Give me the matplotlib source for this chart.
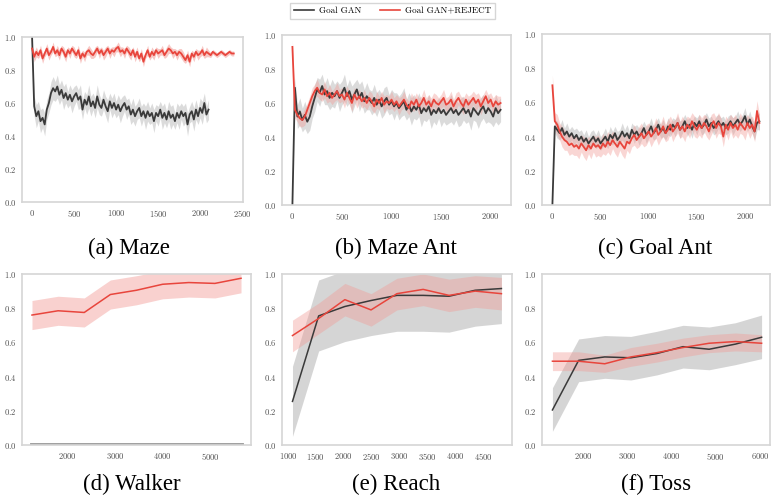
import numpy as np
import matplotlib
matplotlib.use("Agg")
import matplotlib.pyplot as plt
from matplotlib.ticker import FuncFormatter

plt.rcParams['font.family'] = 'cmr10'
plt.rcParams['mathtext.fontset'] = 'cm'
plt.rcParams['axes.formatter.use_mathtext'] = True

GAN_COLOR = '#3a3a3a'
REJ_COLOR = '#e8453c'
GAN_FILL = '#c4c4c4'
REJ_FILL = '#f29a95'

# ---------------- top row: training curves (step 25 iterations) ----------------
step = 25

# (a) Maze
maze_gan = [1.00, 0.58, 0.52, 0.55, 0.49, 0.51, 0.47, 0.56, 0.60, 0.66,
            0.69, 0.67, 0.70, 0.65, 0.68, 0.63, 0.66, 0.62, 0.65, 0.61,
            0.64, 0.66, 0.62, 0.64, 0.56, 0.62, 0.59, 0.64, 0.58, 0.61,
            0.57, 0.64, 0.59, 0.57, 0.62, 0.58, 0.55, 0.61, 0.57, 0.60,
            0.56, 0.59, 0.55, 0.58, 0.60, 0.56, 0.58, 0.53, 0.56, 0.52,
            0.55, 0.57, 0.52, 0.55, 0.51, 0.55, 0.52, 0.54, 0.49, 0.54,
            0.52, 0.56, 0.51, 0.54, 0.50, 0.55, 0.51, 0.53, 0.49, 0.54,
            0.51, 0.55, 0.52, 0.54, 0.47, 0.53, 0.55, 0.50, 0.56, 0.52,
            0.57, 0.54, 0.60, 0.53, 0.56]
maze_gan_sd = [0.00, 0.06, 0.07, 0.06, 0.07, 0.06, 0.07, 0.06, 0.06, 0.07,
               0.07, 0.06, 0.07, 0.06, 0.06, 0.07, 0.06, 0.05, 0.06, 0.07,
               0.06, 0.05, 0.06, 0.07, 0.06, 0.05, 0.06, 0.07, 0.06, 0.05,
               0.06, 0.07, 0.06, 0.05, 0.06, 0.06, 0.07, 0.05, 0.06, 0.06,
               0.05, 0.06, 0.07, 0.06, 0.05, 0.06, 0.05, 0.06, 0.07, 0.06,
               0.05, 0.06, 0.06, 0.05, 0.07, 0.06, 0.05, 0.06, 0.07, 0.05,
               0.06, 0.05, 0.07, 0.06, 0.05, 0.06, 0.07, 0.06, 0.05, 0.06,
               0.07, 0.05, 0.06, 0.06, 0.07, 0.05, 0.06, 0.07, 0.06, 0.05,
               0.06, 0.07, 0.06, 0.05, 0.06]
maze_rej = [0.93, 0.88, 0.91, 0.89, 0.92, 0.87, 0.90, 0.93, 0.89, 0.91,
            0.94, 0.90, 0.92, 0.89, 0.93, 0.91, 0.88, 0.92, 0.90, 0.93,
            0.91, 0.89, 0.92, 0.87, 0.90, 0.88, 0.91, 0.92, 0.90, 0.89,
            0.91, 0.93, 0.90, 0.92, 0.89, 0.91, 0.93, 0.90, 0.92, 0.91,
            0.93, 0.94, 0.91, 0.92, 0.90, 0.93, 0.91, 0.89, 0.92, 0.88,
            0.91, 0.87, 0.90, 0.85, 0.89, 0.92, 0.88, 0.91, 0.89, 0.92,
            0.90, 0.91, 0.92, 0.89, 0.91, 0.93, 0.92, 0.90, 0.91, 0.89,
            0.91, 0.90, 0.88, 0.86, 0.89, 0.85, 0.90, 0.88, 0.91, 0.89,
            0.90, 0.92, 0.89, 0.91, 0.90, 0.89, 0.91, 0.90, 0.89, 0.90,
            0.91, 0.90, 0.89, 0.90, 0.91, 0.90, 0.90]
maze_rej_sd = [0.02, 0.03, 0.03, 0.02, 0.03, 0.03, 0.02, 0.03, 0.03, 0.02,
               0.03, 0.02, 0.03, 0.03, 0.02, 0.03, 0.03, 0.02, 0.03, 0.02,
               0.03, 0.02, 0.03, 0.03, 0.02, 0.03, 0.02, 0.03, 0.03, 0.02,
               0.03, 0.02, 0.03, 0.02, 0.03, 0.03, 0.02, 0.03, 0.02, 0.03,
               0.02, 0.03, 0.03, 0.02, 0.03, 0.02, 0.03, 0.03, 0.02, 0.03,
               0.03, 0.02, 0.03, 0.03, 0.02, 0.03, 0.02, 0.03, 0.03, 0.02,
               0.03, 0.02, 0.03, 0.02, 0.03, 0.03, 0.02, 0.03, 0.02, 0.03,
               0.02, 0.03, 0.03, 0.02, 0.03, 0.03, 0.02, 0.03, 0.02, 0.03,
               0.02, 0.03, 0.02, 0.03, 0.02, 0.015, 0.015, 0.015, 0.015, 0.015,
               0.015, 0.015, 0.015, 0.015, 0.015, 0.015, 0.015]

# (b) Maze Ant
ant_gan = [0.00, 0.69, 0.52, 0.55, 0.50, 0.53, 0.49, 0.52, 0.58, 0.63,
           0.68, 0.66, 0.70, 0.65, 0.67, 0.63, 0.66, 0.64, 0.67, 0.63,
           0.66, 0.69, 0.64, 0.67, 0.62, 0.65, 0.68, 0.63, 0.66, 0.61,
           0.64, 0.62, 0.60, 0.63, 0.59, 0.62, 0.58, 0.61, 0.63, 0.59,
           0.61, 0.58, 0.60, 0.57, 0.59, 0.61, 0.56, 0.59, 0.55, 0.58,
           0.56, 0.59, 0.54, 0.57, 0.55, 0.58, 0.53, 0.56, 0.54, 0.57,
           0.54, 0.56, 0.53, 0.55, 0.57, 0.54, 0.56, 0.53, 0.55, 0.57,
           0.54, 0.56, 0.52, 0.57, 0.55, 0.53, 0.56, 0.58, 0.54, 0.57,
           0.55, 0.52, 0.57, 0.54, 0.56]
ant_gan_sd = [0.00, 0.06, 0.07, 0.08, 0.07, 0.08, 0.07, 0.08, 0.07, 0.08,
              0.07, 0.08, 0.07, 0.06, 0.08, 0.07, 0.08, 0.07, 0.06, 0.08,
              0.07, 0.08, 0.06, 0.07, 0.08, 0.07, 0.06, 0.08, 0.07, 0.07,
              0.08, 0.06, 0.07, 0.08, 0.07, 0.06, 0.07, 0.08, 0.07, 0.06,
              0.07, 0.08, 0.06, 0.07, 0.07, 0.08, 0.06, 0.07, 0.08, 0.07,
              0.06, 0.07, 0.08, 0.07, 0.06, 0.07, 0.08, 0.07, 0.07, 0.06,
              0.08, 0.07, 0.06, 0.07, 0.08, 0.07, 0.06, 0.07, 0.08, 0.07,
              0.06, 0.07, 0.08, 0.07, 0.06, 0.08, 0.07, 0.07, 0.06, 0.08,
              0.07, 0.06, 0.08, 0.07, 0.07]
ant_rej = [0.93, 0.56, 0.53, 0.51, 0.50, 0.52, 0.56, 0.60, 0.64, 0.67,
           0.69, 0.66, 0.65, 0.68, 0.64, 0.66, 0.63, 0.65, 0.67, 0.64,
           0.65, 0.62, 0.66, 0.63, 0.60, 0.65, 0.62, 0.64, 0.61, 0.63,
           0.60, 0.63, 0.61, 0.58, 0.62, 0.60, 0.63, 0.59, 0.61, 0.60,
           0.62, 0.59, 0.61, 0.58, 0.60, 0.62, 0.59, 0.57, 0.61, 0.59,
           0.62, 0.58, 0.60, 0.63, 0.59, 0.61, 0.58, 0.62, 0.60, 0.59,
           0.61, 0.63, 0.59, 0.60, 0.62, 0.58, 0.61, 0.63, 0.60, 0.58,
           0.62, 0.59, 0.61, 0.63, 0.60, 0.62, 0.58, 0.61, 0.64, 0.60,
           0.62, 0.58, 0.61, 0.59, 0.60]
ant_rej_sd = [0.04, 0.05, 0.04, 0.05, 0.04, 0.05, 0.04, 0.04, 0.05, 0.04,
              0.05, 0.04, 0.04, 0.05, 0.04, 0.05, 0.04, 0.04, 0.05, 0.04,
              0.04, 0.05, 0.04, 0.04, 0.05, 0.04, 0.05, 0.04, 0.04, 0.05,
              0.04, 0.04, 0.05, 0.04, 0.05, 0.04, 0.04, 0.05, 0.04, 0.04,
              0.05, 0.04, 0.04, 0.05, 0.04, 0.05, 0.04, 0.04, 0.05, 0.04,
              0.04, 0.05, 0.04, 0.05, 0.04, 0.04, 0.05, 0.04, 0.05, 0.04,
              0.04, 0.05, 0.04, 0.04, 0.05, 0.04, 0.05, 0.04, 0.04, 0.05,
              0.04, 0.05, 0.04, 0.04, 0.05, 0.04, 0.05, 0.04, 0.04, 0.05,
              0.04, 0.05, 0.04, 0.05, 0.04]

# (c) Goal Ant
goal_gan = [0.00, 0.46, 0.44, 0.42, 0.45, 0.41, 0.43, 0.40, 0.42, 0.39,
            0.41, 0.38, 0.40, 0.37, 0.39, 0.36, 0.38, 0.40, 0.37, 0.39,
            0.36, 0.38, 0.40, 0.37, 0.41, 0.39, 0.42, 0.38, 0.40, 0.43,
            0.40, 0.42, 0.39, 0.44, 0.41, 0.43, 0.40, 0.42, 0.45, 0.41,
            0.43, 0.46, 0.42, 0.44, 0.47, 0.43, 0.45, 0.42, 0.46, 0.44,
            0.47, 0.45, 0.48, 0.44, 0.46, 0.49, 0.45, 0.47, 0.44, 0.48,
            0.46, 0.49, 0.45, 0.47, 0.50, 0.46, 0.48, 0.45, 0.47, 0.49,
            0.46, 0.48, 0.45, 0.47, 0.49, 0.46, 0.48, 0.50, 0.47, 0.49,
            0.52, 0.47, 0.50, 0.46, 0.43, 0.48, 0.49]
goal_gan_sd = [0.00, 0.04, 0.05, 0.04, 0.05, 0.04, 0.05, 0.04, 0.04, 0.05,
               0.04, 0.05, 0.04, 0.04, 0.05, 0.04, 0.05, 0.04, 0.04, 0.05,
               0.04, 0.04, 0.05, 0.04, 0.05, 0.04, 0.04, 0.05, 0.04, 0.05,
               0.04, 0.05, 0.04, 0.04, 0.05, 0.04, 0.05, 0.04, 0.04, 0.05,
               0.04, 0.05, 0.04, 0.05, 0.04, 0.04, 0.05, 0.04, 0.05, 0.04,
               0.04, 0.05, 0.04, 0.05, 0.04, 0.04, 0.05, 0.04, 0.05, 0.04,
               0.05, 0.04, 0.04, 0.05, 0.04, 0.05, 0.04, 0.04, 0.05, 0.04,
               0.05, 0.04, 0.04, 0.05, 0.04, 0.05, 0.04, 0.05, 0.04, 0.04,
               0.05, 0.04, 0.05, 0.04, 0.05, 0.04, 0.05]
goal_rej = [0.70, 0.49, 0.47, 0.43, 0.40, 0.38, 0.37, 0.35, 0.36, 0.34,
            0.35, 0.33, 0.36, 0.34, 0.32, 0.35, 0.33, 0.36, 0.34, 0.35,
            0.33, 0.36, 0.34, 0.37, 0.35, 0.38, 0.36, 0.34, 0.37, 0.35,
            0.33, 0.37, 0.36, 0.39, 0.41, 0.38, 0.40, 0.42, 0.39, 0.41,
            0.43, 0.40, 0.42, 0.45, 0.41, 0.43, 0.46, 0.42, 0.44, 0.47,
            0.43, 0.45, 0.48, 0.44, 0.46, 0.43, 0.47, 0.45, 0.49, 0.46,
            0.44, 0.47, 0.45, 0.48, 0.46, 0.43, 0.47, 0.49, 0.45, 0.48,
            0.46, 0.40, 0.47, 0.44, 0.48, 0.45, 0.47, 0.44, 0.48, 0.46,
            0.44, 0.48, 0.45, 0.47, 0.43, 0.55, 0.48]
goal_rej_sd = [0.06, 0.05, 0.06, 0.05, 0.06, 0.06, 0.05, 0.06, 0.06, 0.05,
               0.06, 0.06, 0.05, 0.06, 0.06, 0.05, 0.06, 0.05, 0.06, 0.06,
               0.05, 0.06, 0.05, 0.06, 0.06, 0.05, 0.06, 0.06, 0.05, 0.06,
               0.06, 0.05, 0.06, 0.05, 0.06, 0.05, 0.06, 0.06, 0.05, 0.06,
               0.05, 0.06, 0.05, 0.06, 0.06, 0.05, 0.06, 0.05, 0.06, 0.05,
               0.06, 0.05, 0.06, 0.05, 0.06, 0.06, 0.05, 0.06, 0.05, 0.06,
               0.05, 0.06, 0.06, 0.05, 0.06, 0.05, 0.06, 0.05, 0.06, 0.06,
               0.05, 0.06, 0.05, 0.06, 0.05, 0.06, 0.06, 0.05, 0.06, 0.05,
               0.06, 0.05, 0.06, 0.05, 0.06, 0.06, 0.05]

# ---------------- bottom row: evaluation curves ----------------
walker_x = [1250, 1800, 2350, 2900, 3450, 4000, 4550, 5100, 5650]
walker_gan = [0, 0, 0, 0, 0, 0, 0, 0, 0]
walker_rej = [0.76, 0.785, 0.775, 0.88, 0.905, 0.94, 0.95, 0.945, 0.975]
walker_rej_lo = [0.675, 0.70, 0.69, 0.795, 0.82, 0.855, 0.865, 0.86, 0.89]
walker_rej_hi = [0.845, 0.87, 0.86, 0.965, 0.99, 1.02, 1.03, 1.03, 1.06]

reach_x = [1080, 1550, 2020, 2490, 2955, 3425, 3890, 4360, 4830]
reach_gan = [0.255, 0.755, 0.81, 0.845, 0.875, 0.875, 0.87, 0.905, 0.915]
reach_gan_lo = [0.05, 0.55, 0.605, 0.64, 0.665, 0.665, 0.66, 0.695, 0.71]
reach_gan_hi = [0.46, 0.965, 1.02, 1.04, 1.04, 1.04, 1.03, 1.04, 1.05]
reach_rej = [0.64, 0.74, 0.85, 0.79, 0.885, 0.91, 0.875, 0.90, 0.885]
reach_rej_lo = [0.545, 0.65, 0.755, 0.695, 0.79, 0.815, 0.78, 0.805, 0.79]
reach_rej_hi = [0.73, 0.83, 0.945, 0.885, 0.975, 1.00, 0.97, 0.99, 0.98]

toss_x = [1308, 1900, 2490, 3080, 3670, 4260, 4850, 5445, 6036]
toss_gan = [0.205, 0.495, 0.515, 0.51, 0.535, 0.575, 0.56, 0.59, 0.63]
toss_gan_lo = [0.08, 0.37, 0.39, 0.38, 0.41, 0.45, 0.44, 0.47, 0.505]
toss_gan_hi = [0.335, 0.62, 0.64, 0.635, 0.665, 0.70, 0.69, 0.715, 0.76]
toss_rej = [0.49, 0.49, 0.475, 0.515, 0.54, 0.57, 0.595, 0.605, 0.595]
toss_rej_lo = [0.435, 0.435, 0.425, 0.46, 0.485, 0.515, 0.54, 0.55, 0.545]
toss_rej_hi = [0.545, 0.545, 0.525, 0.57, 0.595, 0.625, 0.645, 0.655, 0.645]

captions = ['(a) Maze', '(b) Maze Ant', '(c) Goal Ant',
            '(d) Walker', '(e) Reach', '(f) Toss']


def style(ax):
    ax.set_ylim(0, 1)
    ax.set_yticks([0, 0.2, 0.4, 0.6, 0.8, 1.0])
    ax.yaxis.set_major_formatter(FuncFormatter(lambda v, p: r'$%.1f$' % v))
    ax.xaxis.set_major_formatter(FuncFormatter(lambda v, p: r'$%d$' % v))
    for s in ax.spines.values():
        s.set_color('#d5d5d5')
        s.set_linewidth(1.2)
    ax.tick_params(length=0, labelsize=6.2, labelcolor='#505050', pad=4)


def band(ax, x, mean, sd, color, fill, alpha, lw=1.3):
    x = np.asarray(x)
    m = np.asarray(mean)
    s = np.asarray(sd)
    ax.fill_between(x, m - s, m + s, color=fill, alpha=alpha, lw=0)
    ax.plot(x, m, color=color, lw=lw)


fig = plt.figure(figsize=(7.72, 5.0), dpi=100)
W, H = 772, 500
boxes = [(22, 37, 243, 202), (282, 35, 511, 205), (542, 34, 770, 205),
         (22, 274, 251, 445), (282, 274, 512, 445), (542, 274, 770, 445)]
axes = []
for (l, t, r, b) in boxes:
    axes.append(fig.add_axes([l / W, 1 - b / H, (r - l) / W, (b - t) / H]))

# (a)
ax = axes[0]
band(ax, np.arange(len(maze_gan)) * step, maze_gan, maze_gan_sd, GAN_COLOR, GAN_FILL, 0.6)
band(ax, np.arange(len(maze_rej)) * step, maze_rej, maze_rej_sd, REJ_COLOR, REJ_FILL, 0.55)
ax.set_xlim(-120, 2510)
ax.set_xticks([0, 500, 1000, 1500, 2000, 2500])

# (b)
ax = axes[1]
band(ax, np.arange(len(ant_gan)) * step, ant_gan, ant_gan_sd, GAN_COLOR, GAN_FILL, 0.6)
band(ax, np.arange(len(ant_rej)) * step, ant_rej, ant_rej_sd, REJ_COLOR, REJ_FILL, 0.4)
ax.set_xlim(-105, 2205)
ax.set_xticks([0, 500, 1000, 1500, 2000])

# (c)
ax = axes[2]
band(ax, np.arange(len(goal_gan)) * step, goal_gan, goal_gan_sd, GAN_COLOR, GAN_FILL, 0.6)
band(ax, np.arange(len(goal_rej)) * step, goal_rej, goal_rej_sd, REJ_COLOR, REJ_FILL, 0.4)
ax.set_xlim(-108, 2260)
ax.set_xticks([0, 500, 1000, 1500, 2000])

# (d)
ax = axes[3]
ax.fill_between(walker_x, walker_rej_lo, walker_rej_hi, color=REJ_FILL, alpha=0.45, lw=0)
ax.plot(walker_x, walker_gan, color='#9a9a9a', lw=3.5)
ax.plot(walker_x, walker_rej, color=REJ_COLOR, lw=1.1)
ax.set_xlim(1040, 5860)
ax.set_xticks([2000, 3000, 4000, 5000])

# (e)
ax = axes[4]
ax.fill_between(reach_x, reach_gan_lo, reach_gan_hi, color=GAN_FILL, alpha=0.7, lw=0)
ax.fill_between(reach_x, reach_rej_lo, reach_rej_hi, color=REJ_FILL, alpha=0.4, lw=0)
ax.plot(reach_x, reach_gan, color=GAN_COLOR, lw=1.1)
ax.plot(reach_x, reach_rej, color=REJ_COLOR, lw=1.1)
ax.set_xlim(892, 5020)
ax.set_xticks([1000, 1500, 2000, 2500, 3000, 3500, 4000, 4500])

# (f)
ax = axes[5]
ax.fill_between(toss_x, toss_gan_lo, toss_gan_hi, color=GAN_FILL, alpha=0.7, lw=0)
ax.fill_between(toss_x, toss_rej_lo, toss_rej_hi, color=REJ_FILL, alpha=0.4, lw=0)
ax.plot(toss_x, toss_gan, color=GAN_COLOR, lw=1.1)
ax.plot(toss_x, toss_rej, color=REJ_COLOR, lw=1.1)
ax.set_xlim(1072, 6226)
ax.set_xticks([2000, 3000, 4000, 5000, 6000])

for ax in axes:
    style(ax)

cap_x = [128.5, 396, 655, 132, 396, 656]
for i, cap in enumerate(captions):
    base = 254 if i < 3 else 490
    fig.text(cap_x[i] / W, 1 - base / H, cap, ha='center', va='baseline',
             fontsize=16.5, family='Liberation Serif')

handles = [plt.Line2D([], [], color=GAN_COLOR, lw=1.2),
           plt.Line2D([], [], color=REJ_COLOR, lw=1.2)]
fig.legend(handles, ['Goal GAN', 'Goal GAN+REJECT'], loc='center',
           bbox_to_anchor=(392.5 / W, 1 - 11 / H), ncol=2, fontsize=6.5,
           frameon=True, fancybox=False, edgecolor='#cccccc',
           handlelength=2.2, handletextpad=0.55, columnspacing=2.1,
           borderpad=0.45)

fig.savefig('out.png', dpi=100)
